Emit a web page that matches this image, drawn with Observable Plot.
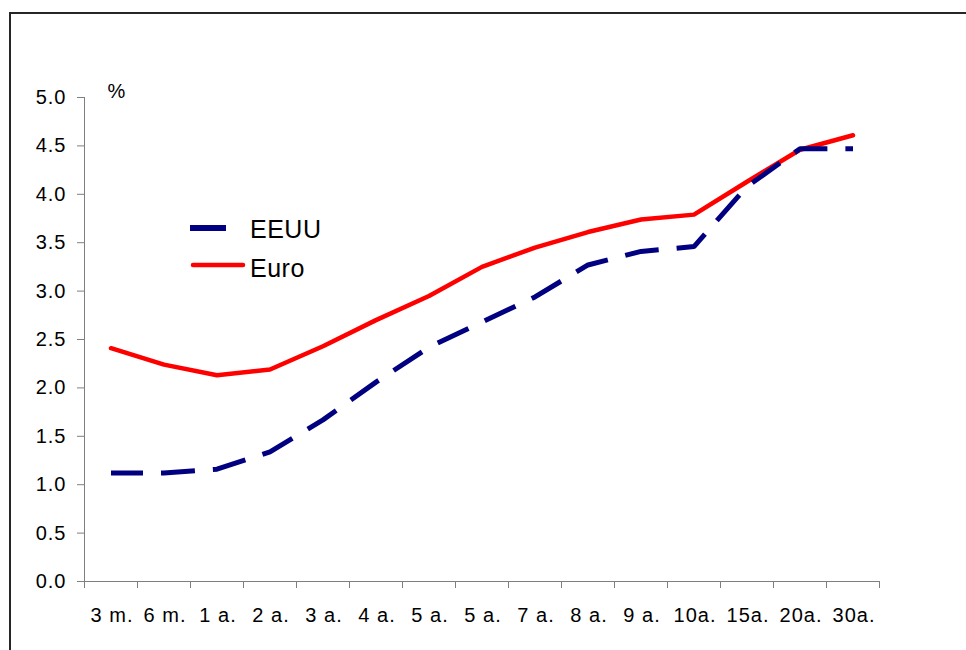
<!DOCTYPE html>
<html>
<head>
<meta charset="utf-8">
<script src="https://cdn.jsdelivr.net/npm/d3@7"></script>
<script src="https://cdn.jsdelivr.net/npm/@observablehq/plot@0.6"></script>
<style>
  html, body { margin: 0; padding: 0; background: #fff; }
  #wrap { position: relative; width: 966px; height: 650px; overflow: hidden; font-family: "Liberation Sans", Arial, sans-serif; }
  #border { position: absolute; left: 9px; top: 12px; width: 1000px; height: 700px; border-left: 2px solid #262626; border-top: 2px solid #262626; }
  #chart { position: absolute; left: 0; top: 0; }
  #chart svg text { font-size: 20px; letter-spacing: 1px; fill: #000; }
  #legend { position: absolute; left: 0; top: 0; }
</style>
</head>
<body>
<div id="wrap">
  <div id="border"></div>
  <div id="chart"></div>
  <svg id="legend" width="966" height="650"></svg>
</div>
<script>
const tenors = ["3 m.","6 m.","1 a.","2 a.","3 a.","4 a.","5 a.","5 a.","7 a.","8 a.","9 a.","10a.","15a.","20a.","30a."];
const eeuu = [1.12,1.12,1.16,1.34,1.67,2.06,2.42,2.68,2.94,3.27,3.41,3.46,4.08,4.47,4.47];
const euro = [2.41,2.24,2.13,2.19,2.43,2.70,2.95,3.25,3.45,3.61,3.74,3.79,4.13,4.46,4.61];
const yTicks = [0,0.5,1,1.5,2,2.5,3,3.5,4,4.5,5];
const seriesNames = ["EEUU","Euro"];
const seriesColors = ["#000080","#ff0000"];

const idx = tenors.map((_, i) => i);
const centers = idx.map(i => i + 0.5);
const bounds = d3.range(tenors.length + 1);
const dEEUU = idx.map(i => ({x: i + 0.5, v: eeuu[i]}));
const dEuro = idx.map(i => ({x: i + 0.5, v: euro[i]}));

const font = "'Liberation Sans', Arial, sans-serif";
const plot = Plot.plot({
  width: 966,
  height: 650,
  marginLeft: 84,
  marginRight: 87,
  marginTop: 97,
  marginBottom: 69,
  style: {fontFamily: font, fontSize: "20px", color: "#000", background: "transparent"},
  x: {domain: [0, tenors.length]},
  y: {domain: [0, 5]},
  marks: [
    Plot.ruleX([0], {stroke: "#7f7f7f", strokeWidth: 1}),
    Plot.ruleY([0], {stroke: "#7f7f7f", strokeWidth: 1}),
    Plot.axisY({ticks: yTicks, tickFormat: d3.format(".1f"), tickSize: 7, tickPadding: 11, stroke: "#7f7f7f", fill: "#000", label: null}),
    Plot.axisX({ticks: bounds, tickFormat: () => "", tickSize: 7, stroke: "#7f7f7f", label: null}),
    Plot.axisX({ticks: centers, tickFormat: d => tenors[Math.floor(d)], tickSize: 0, tickPadding: 26, fill: "#000", label: null, dx: 1}),
    Plot.text(["%"], {frameAnchor: "top-left", dx: 23, dy: 0, textAnchor: "start", lineAnchor: "bottom", fill: "#000"}),
    Plot.line(dEuro, {x: "x", y: "v", stroke: seriesColors[1], strokeWidth: 4.5, strokeLinejoin: "round", strokeLinecap: "round"}),
    Plot.line(dEEUU, {x: "x", y: "v", stroke: seriesColors[0], strokeWidth: 5, strokeDasharray: "34,18", strokeDashoffset: 2, strokeLinecap: "butt", strokeLinejoin: "miter"})
  ]
});
document.getElementById("chart").appendChild(plot);

// legend
const lg = d3.select("#legend");
const items = [
  {name: seriesNames[0], color: seriesColors[0], x1: 190, x2: 226, y: 228, w: 6, cap: "butt", base: 238},
  {name: seriesNames[1], color: seriesColors[1], x1: 193, x2: 243, y: 265, w: 4.5, cap: "round", base: 277}
];
for (const it of items) {
  lg.append("line").attr("x1", it.x1).attr("x2", it.x2).attr("y1", it.y).attr("y2", it.y)
    .attr("stroke", it.color).attr("stroke-width", it.w).attr("stroke-linecap", it.cap);
  lg.append("text").attr("x", 250).attr("y", it.base).text(it.name)
    .attr("font-family", font).attr("font-size", 25).attr("letter-spacing", 0.5).attr("fill", "#000");
}
</script>
</body>
</html>
